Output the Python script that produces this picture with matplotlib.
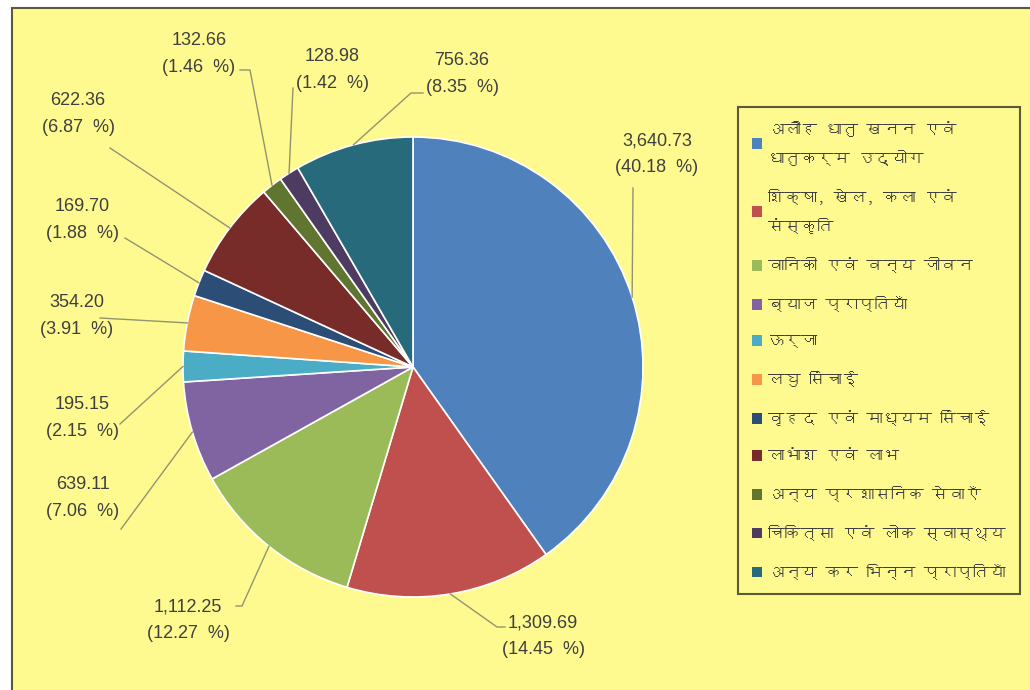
import matplotlib
matplotlib.use('Agg')
import matplotlib.pyplot as plt
from matplotlib import font_manager
from matplotlib.ft2font import FT2Font
from matplotlib.patches import Rectangle
import numpy as np

# ── Data ────────────────────────────────────────────────────────────────────
categories = [
    'अलौह धातु खनन एवं\nधातुकर्म उद्योग',
    'शिक्षा, खेल, कला एवं\nसंस्कृति',
    'वानिकी एवं वन्य जीवन',
    'ब्याज प्राप्तियाँ',
    'ऊर्जा',
    'लघु सिंचाई',
    'वृहद एवं माध्यम सिंचाई',
    'लाभांश एवं लाभ',
    'अन्य प्रशासनिक सेवाएँ',
    'चिकित्सा एवं लोक स्वास्थ्य',
    'अन्य कर भिन्न प्राप्तियाँ',
]
values = [3640.73, 1309.69, 1112.25, 639.11, 195.15, 354.20,
          169.70, 622.36, 132.66, 128.98, 756.36]
percents = [40.18, 14.45, 12.27, 7.06, 2.15, 3.91,
            1.88, 6.87, 1.46, 1.42, 8.35]
colors = ['#4F81BD', '#C0504D', '#9BBB59', '#8064A2', '#4BACC6', '#F79646',
          '#2C4D75', '#772C2A', '#5F7530', '#4D3B62', '#276A7C']

# ── Layout (pixel coords, y measured from top) ─────────────────────────────
W, H = 1030, 690
CENTER = (413, 367)
RADIUS = 230
# label block centre, leader start near the text, horizontal elbow length
label_pos = [(657, 154), (543, 636), (188, 620), (83, 498), (82, 418),
             (77, 316), (82, 220), (78, 114), (199, 54), (332, 70), (462, 74)]
leader_start = [(633, 188), (505, 627), (236, 606), (121, 529), (120, 424),
                (100, 318), (125, 238), (110, 148), (240, 70), (293, 88),
                (423, 93)]
elbow = [0, -8, 6, 0, 0, 0, 0, 0, 10, 0, -12]

BG = '#FFFA90'
TEXT = '#3f3f3f'
LEADER = '#93936f'


def find_devanagari():
    for f in font_manager.fontManager.ttflist:
        try:
            cmap = FT2Font(f.fname).get_charmap()
        except Exception:
            continue
        if 0x0915 in cmap and 0x093F in cmap:
            return f.name
    return None


deva = find_devanagari()
legend_family = [deva, 'Liberation Sans'] if deva else ['Liberation Sans']
plt.rcParams['font.family'] = ['Liberation Sans', 'DejaVu Sans']


def flip(p):
    return p[0], H - p[1]


fig = plt.figure(figsize=(W / 100, H / 100), dpi=100, facecolor='white')
ax = fig.add_axes([0, 0, 1, 1])
ax.set_xlim(0, W)
ax.set_ylim(0, H)
ax.set_aspect('equal')
ax.axis('off')

# chart area background with border
ax.add_patch(Rectangle((12, -10), W + 20, H - 8 + 10, facecolor=BG,
                       edgecolor='#5a5a3a', lw=1.5, zorder=0))

wedges, _ = ax.pie(values, colors=colors, startangle=90, counterclock=False,
                   center=flip(CENTER), radius=RADIUS,
                   wedgeprops=dict(edgecolor='white', linewidth=1.2))
ax.set_xlim(0, W)
ax.set_ylim(0, H)

# ── Data labels with leader lines ──────────────────────────────────────────
for w, v, p, lp, ls, el in zip(wedges, values, percents, label_pos,
                               leader_start, elbow):
    mid = np.deg2rad((w.theta1 + w.theta2) / 2)
    ex = w.center[0] + w.r * np.cos(mid)
    ey = w.center[1] + w.r * np.sin(mid)
    sx, sy = flip(ls)
    ax.plot([sx, sx + el, ex], [sy, sy, ey], color=LEADER, lw=1, zorder=1)
    tx, ty = flip(lp)
    ax.text(tx, ty, f'{v:,.2f}\n({p:.2f}  %)', ha='center', va='center',
            fontsize=13, color=TEXT, linespacing=1.75, zorder=3)

# ── Legend ─────────────────────────────────────────────────────────────────
leg = ax.legend(wedges, categories, loc='upper left',
                bbox_to_anchor=(738 / W, 1 - 107 / H), bbox_transform=fig.transFigure,
                prop=dict(family=legend_family, size=11.8),
                labelcolor=TEXT, frameon=True, fancybox=False,
                facecolor=BG, edgecolor='#5a5a3a', framealpha=1,
                handlelength=0.6, handleheight=0.6, handletextpad=0.4,
                labelspacing=1.4, borderpad=0.85, borderaxespad=0)
leg.get_frame().set_linewidth(1.5)
for h in leg.legend_handles:
    h.set_edgecolor('none')
for t in leg.get_texts():
    t.set_linespacing(1.95)

fig.savefig('out.png', dpi=100, facecolor='white')
